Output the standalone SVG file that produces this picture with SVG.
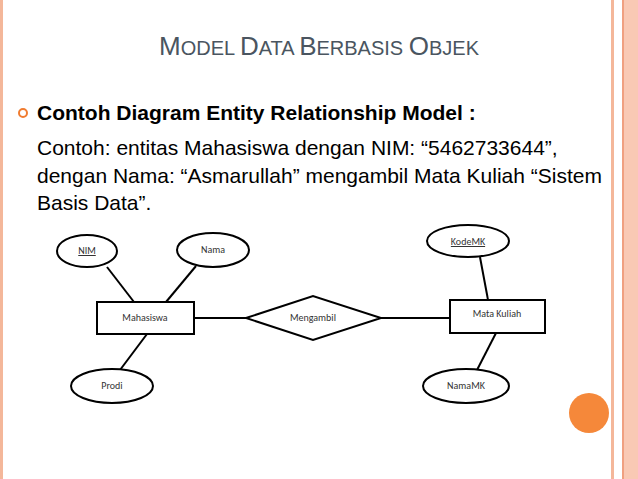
<svg xmlns="http://www.w3.org/2000/svg" width="638" height="479" viewBox="0 0 638 479">
<style>
.s{fill:#fff;stroke:#000;stroke-width:2}
.l{stroke:#000;stroke-width:2}
.t{font-family:Calibri,"Liberation Sans",Arial,sans-serif;font-size:10px;fill:#333;text-anchor:middle}
.b{font-family:"Liberation Sans",Arial,sans-serif;font-size:21px;fill:#000}
</style>
<rect width="638" height="479" fill="#fff"/>
<rect x="0" y="0" width="3" height="479" fill="#f4b79a"/>
<rect x="611" y="0" width="3" height="479" fill="#f4b79a"/>
<rect x="622" y="0" width="16" height="479" fill="#f9c9b4"/>
<rect x="622" y="0" width="2" height="479" fill="#f0a080"/>
<text x="319" y="55" text-anchor="middle" font-family="'Liberation Sans',Arial,sans-serif" fill="#4a5560"><tspan font-size="26">M</tspan><tspan font-size="20">ODEL </tspan><tspan font-size="26">D</tspan><tspan font-size="20">ATA </tspan><tspan font-size="26">B</tspan><tspan font-size="20">ERBASIS </tspan><tspan font-size="26">O</tspan><tspan font-size="20">BJEK</tspan></text>
<circle cx="23" cy="113" r="4" fill="none" stroke="#f07c30" stroke-width="2"/>
<text class="b" x="37" y="120" font-weight="bold" font-size="21">Contoh Diagram Entity Relationship Model :</text>
<text class="b" x="37" y="155">Contoh: entitas Mahasiswa dengan NIM: “5462733644”,</text>
<text class="b" x="37" y="183">dengan Nama: “Asmarullah” mengambil Mata Kuliah “Sistem</text>
<text class="b" x="37" y="210">Basis Data”.</text>
<g id="connectors">
<line class="l" x1="107" y1="267" x2="134" y2="302"/>
<line class="l" x1="196" y1="266" x2="166" y2="302"/>
<line class="l" x1="147" y1="334" x2="120" y2="370"/>
<line class="l" x1="194" y1="318" x2="246" y2="318"/>
<line class="l" x1="381" y1="318" x2="450" y2="318"/>
<line class="l" x1="480" y1="257" x2="488" y2="300"/>
<line class="l" x1="496" y1="333" x2="477" y2="370"/>
</g>
<g id="nim"><ellipse class="s" cx="87" cy="251" rx="30" ry="16"/><text class="t" x="87" y="254" text-decoration="underline">NIM</text></g>
<g id="nama"><ellipse class="s" cx="213" cy="250" rx="36" ry="17"/><text class="t" x="213" y="253">Nama</text></g>
<g id="mahasiswa"><rect class="s" x="97" y="302" width="97" height="32"/><text class="t" x="145" y="321">Mahasiswa</text></g>
<g id="mengambil"><polygon class="s" points="246,318 313,296 381,318 313,340"/><text class="t" x="313" y="321">Mengambil</text></g>
<g id="matakuliah"><rect class="s" x="450" y="300" width="95" height="33"/><text class="t" x="497" y="317">Mata Kuliah</text></g>
<g id="kodemk"><ellipse class="s" cx="468" cy="241" rx="41" ry="16"/><text class="t" x="468" y="245" text-decoration="underline">KodeMK</text></g>
<g id="prodi"><ellipse class="s" cx="112" cy="386" rx="41" ry="17"/><text class="t" x="112" y="389">Prodi</text></g>
<g id="namamk"><ellipse class="s" cx="466" cy="386" rx="43" ry="17"/><text class="t" x="466" y="389">NamaMK</text></g>
<circle cx="589" cy="413" r="20" fill="#f5883a"/>
</svg>
